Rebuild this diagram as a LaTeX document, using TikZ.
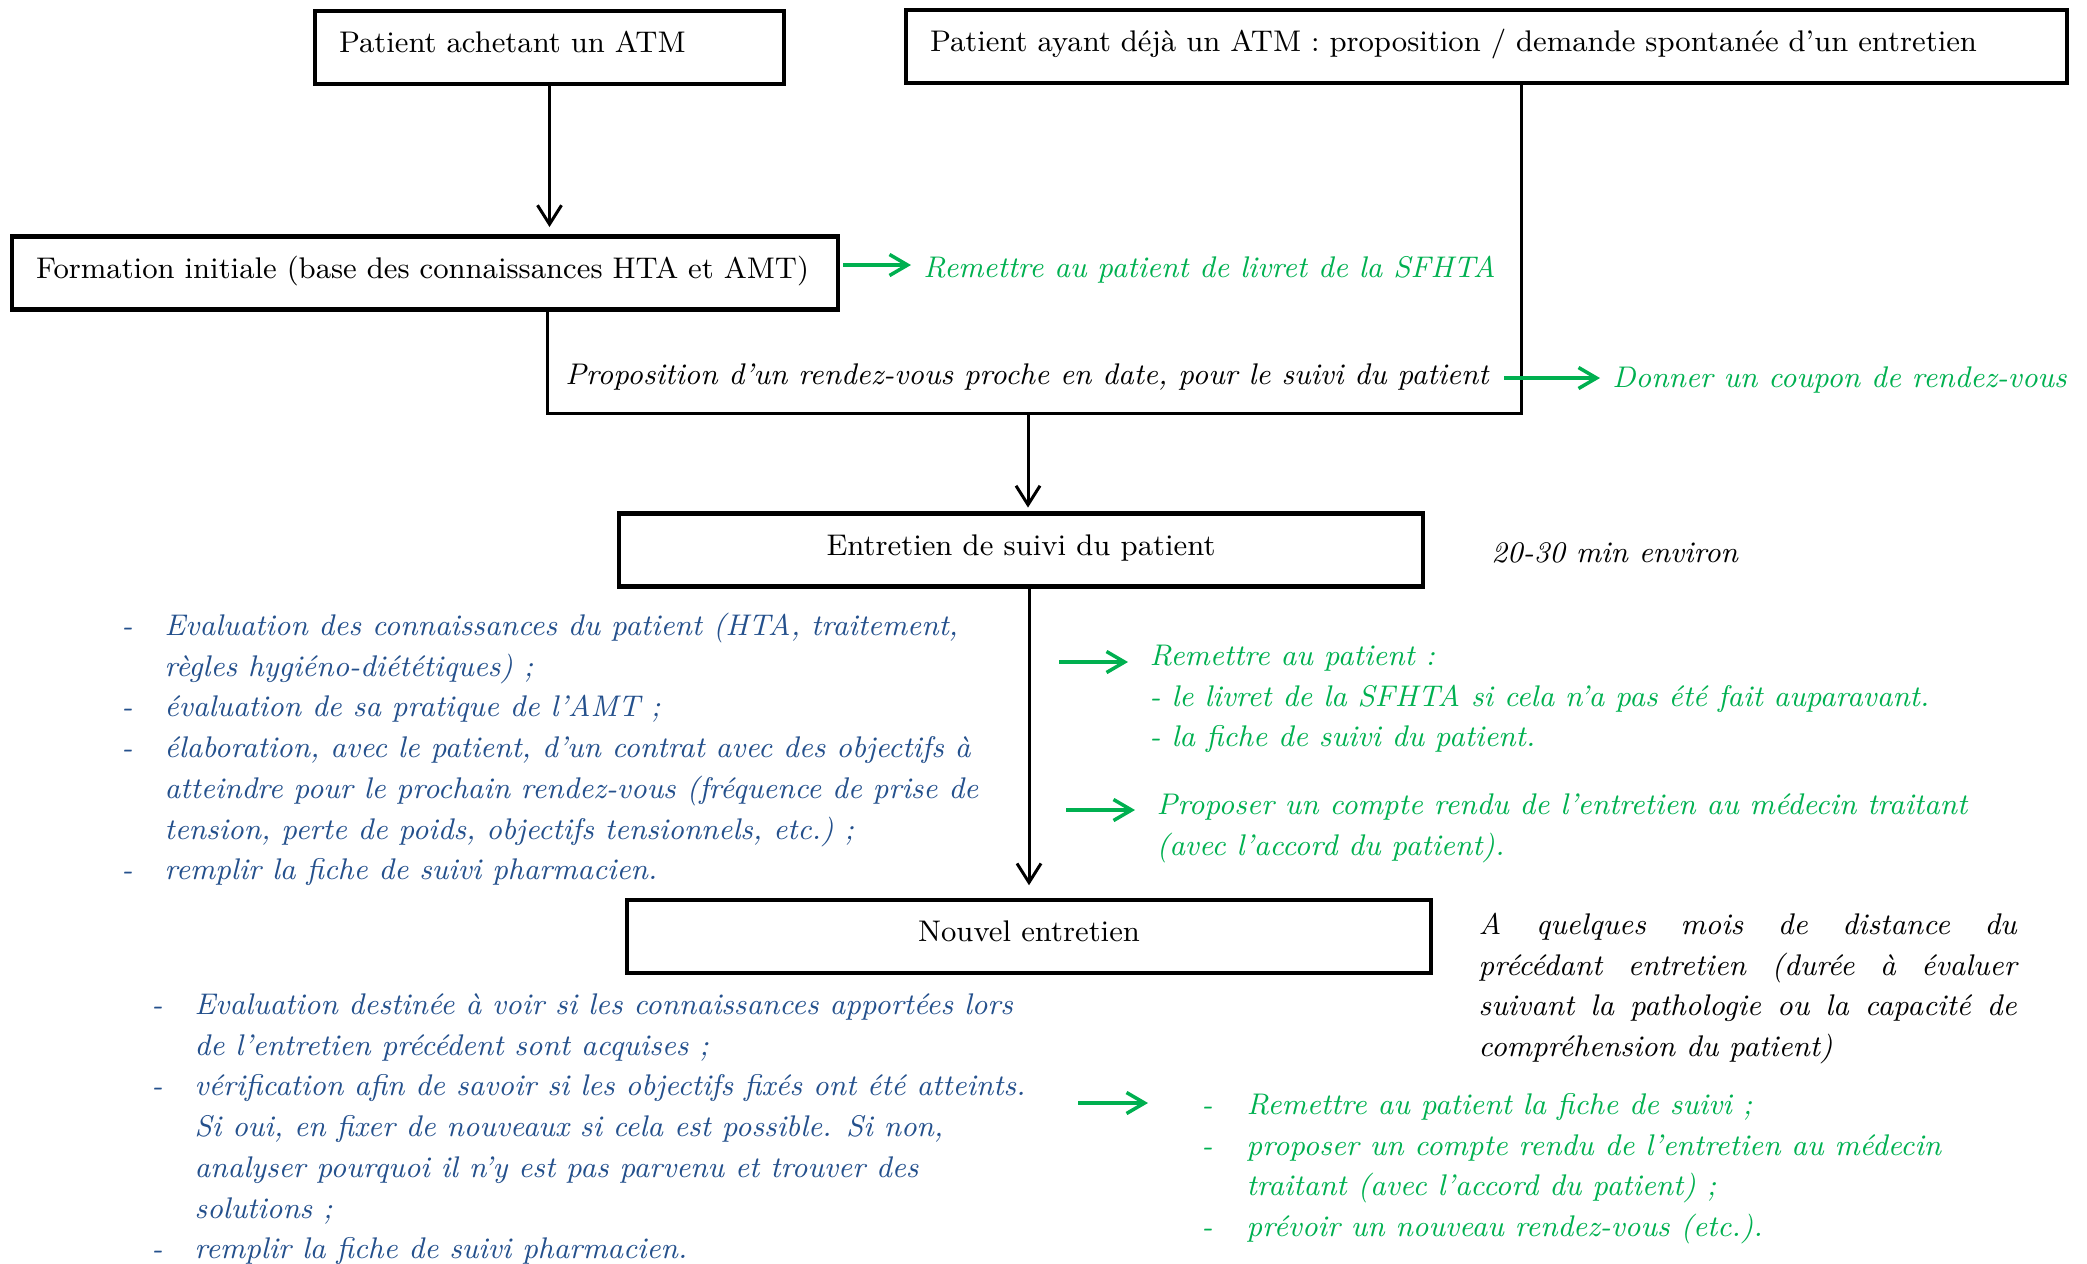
\documentclass[tikz,border=0pt]{standalone}
\usepackage{fontspec}
\usepackage{xcolor}
\usepackage{tikz}
\usetikzlibrary{
  arrows.meta,
  calc
}
\definecolor{vertatm}{RGB}{0,176,80}
\definecolor{bleuatm}{RGB}{36,80,140}
\newcommand{\corps}{\fontsize{8.5}{11.6}\selectfont}
\tikzset{
  etape/.style={
    draw,
    line width=1.4pt,
    minimum height=0.73cm,
    inner xsep=0.24cm,
    text height=6pt,
    text depth=3pt,
    font=\corps},
  trait/.style={
    line width=0.85pt},
  fleche/.style={
    line width=0.85pt,
    -{Straight Barb[length=1.9mm,width=2.4mm]}},
  vert/.style={
    line width=1pt,
    color=vertatm,
    -{Straight Barb[length=1.8mm,width=2.1mm]}},
  bloc/.style={
    inner sep=0pt,
    anchor=north west,
    font=\corps\itshape}
  }

\begin{document}
\begin{tikzpicture}
		\useasboundingbox (0,0) rectangle (20.87,-12.63);
		% boxes
		\node [etape, text width=4.21cm, align=left] (achat) at (5.495,-0.475) {\mbox{Patient achetant un ATM}};
		\node [etape, text width=11.13cm, align=left] (deja) at (14.865,-0.465) {\mbox{Patient ayant déjà un ATM : proposition / demande spontanée d’un entretien}};
		\node [etape, text width=7.78cm, align=left] (formation) at (4.25,-2.73) {\mbox{Formation initiale (base des connaissances HTA et AMT)}};
		\node [etape, minimum width=8.04cm] (suivi) at (10.21,-5.50) {Entretien de suivi du patient};
		\node [etape, minimum width=8.04cm] (nouvel) at (10.29,-9.365) {Nouvel entretien};
		% side texts
		\node [anchor=west, font=\corps\itshape, text=vertatm] (livret) at (9.11,-2.70) {Remettre au patient de livret de la SFHTA};
		\node [anchor=west, font=\corps\itshape] (rdv) at (5.53,-3.77) {Proposition d’un rendez-vous proche en date, pour le suivi du patient};
		\node [anchor=west, font=\corps\itshape, text=vertatm] (coupon) at (16.00,-3.80) {Donner un coupon de rendez-vous};
		\node [anchor=west, font=\corps\itshape] (duree) at (14.79,-5.53) {20-30 min environ};
		\node [bloc, text=bleuatm] (liste1) at (1.21,-6.06) {%
			\begin{tabular}{@{}p{0.43cm}@{}l@{}}
			- & Evaluation des connaissances du patient (HTA, traitement,\\
			  & règles hygiéno-diététiques)~;\\
			- & évaluation de sa pratique de l’AMT~;\\
			- & élaboration, avec le patient, d’un contrat avec des objectifs à\\
			  & atteindre pour le prochain rendez-vous (fréquence de prise de\\
			  & tension, perte de poids, objectifs tensionnels, etc.)~;\\
			- & remplir la fiche de suivi pharmacien.
			\end{tabular}};
		\node [bloc, text=vertatm] (remise) at (11.49,-6.36) {%
			\begin{tabular}{@{}l@{}}
			Remettre au patient :\\
			- le livret de la SFHTA si cela n’a pas été fait auparavant.\\
			- la fiche de suivi du patient.
			\end{tabular}};
		\node [bloc, text=vertatm] (compte) at (11.56,-7.85) {%
			\begin{tabular}{@{}l@{}}
			Proposer un compte rendu de l’entretien au médecin traitant\\
			(avec l’accord du patient).
			\end{tabular}};
		\node [bloc] (delai) at (14.78,-9.05) {%
			\begin{tabular}{@{}p{5.38cm}@{}}
			A quelques mois de distance du\linebreak
			précédant entretien (durée à évaluer\linebreak
			suivant la pathologie ou la capacité de\linebreak
			compréhension du patient)
			\end{tabular}};
		\node [bloc, text=bleuatm] (liste2) at (1.51,-9.85) {%
			\begin{tabular}{@{}p{0.43cm}@{}l@{}}
			- & Evaluation destinée à voir si les connaissances apportées lors\\
			  & de l’entretien précédent sont acquises~;\\
			- & vérification afin de savoir si les objectifs fixés ont été atteints.\\
			  & Si oui, en fixer de nouveaux si cela est possible. Si non,\\
			  & analyser pourquoi il n’y est pas parvenu et trouver des\\
			  & solutions~;\\
			- & remplir la fiche de suivi pharmacien.
			\end{tabular}};
		\node [bloc, text=vertatm] (liste3) at (12.01,-10.85) {%
			\begin{tabular}{@{}p{0.45cm}@{}l@{}}
			- & Remettre au patient la fiche de suivi~;\\
			- & proposer un compte rendu de l’entretien au médecin\\
			  & traitant (avec l’accord du patient)~;\\
			- & prévoir un nouveau rendez-vous (etc.).
			\end{tabular}};
		% connectors
		\coordinate (jg) at (5.47,-4.13);
		\coordinate (jm) at (10.28,-4.13);
		\coordinate (jd) at (15.21,-4.13);
		\draw [fleche, shorten >=2pt] (achat.south) to (achat.south |- formation.north);
		\draw [trait] (formation.south -| jg) -- (jg) -- (jd) -- (jd |- deja.south);
		\draw [fleche, shorten >=1pt] (jm) to (jm |- suivi.north);
		\draw [fleche, shorten >=3.5pt] (nouvel.north |- suivi.south) to (nouvel.north);
		% green arrows
		\coordinate (ga) at (8.43,-2.65);
		\coordinate (gb) at (15.04,-3.78);
		\coordinate (gc) at (10.59,-6.62);
		\coordinate (gd) at (10.66,-8.10);
		\coordinate (ge) at (10.78,-11.03);
		\draw [vert] (ga) to (ga -| livret.west);
		\draw [vert] (gb) to (gb -| coupon.west);
		\draw [vert, shorten >=0.21cm] (gc) to (gc -| remise.west);
		\draw [vert, shorten >=0.21cm] (gd) to (gd -| compte.west);
		\draw [vert, shorten >=0.53cm] (ge) to (ge -| liste3.west);
	\end{tikzpicture}
\end{document}
